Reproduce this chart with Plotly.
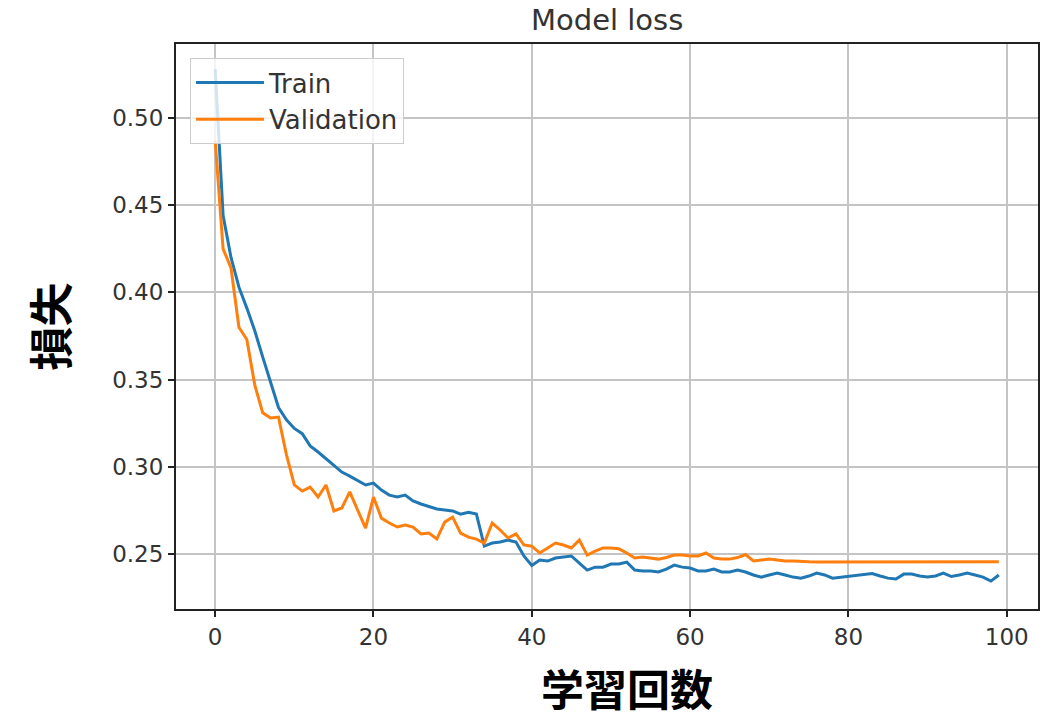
import plotly.graph_objects as go

epochs = list(range(100))

train_loss = [
    0.528, 0.444, 0.420, 0.403, 0.391, 0.378, 0.363, 0.348, 0.334, 0.327,
    0.322, 0.319, 0.312, 0.3085, 0.3045, 0.3005, 0.297, 0.2947, 0.2919, 0.2896,
    0.2907, 0.2867, 0.2838, 0.2827, 0.2838, 0.2804, 0.2787, 0.2772, 0.2758, 0.2752,
    0.2747, 0.2729, 0.274, 0.2729, 0.2546, 0.2563, 0.2569, 0.258, 0.2569, 0.2489,
    0.2434, 0.2466, 0.246, 0.2477, 0.2483, 0.2489, 0.2448, 0.2408, 0.2425, 0.2425,
    0.2443, 0.2443, 0.2454, 0.2408, 0.2403, 0.2403, 0.2397, 0.2414, 0.2437, 0.2425,
    0.242, 0.2403, 0.2403, 0.2414, 0.2397, 0.2397, 0.2408, 0.2397, 0.238, 0.2368,
    0.238, 0.2391, 0.238, 0.2368, 0.2362, 0.2374, 0.2391, 0.238, 0.2362, 0.2368,
    0.2374, 0.2377, 0.2385, 0.2388, 0.2374, 0.2362, 0.2357, 0.2385, 0.2385, 0.2374,
    0.2368, 0.2374, 0.2391, 0.2371, 0.238, 0.2391, 0.238, 0.2368, 0.2345, 0.238,
]

val_loss = [
    0.487, 0.425, 0.414, 0.380, 0.373, 0.347, 0.331, 0.328, 0.3285, 0.307,
    0.2896, 0.2861, 0.2884, 0.2827, 0.2896, 0.2747, 0.2764, 0.2856, 0.2752, 0.2649,
    0.2827, 0.2706, 0.2678, 0.2655, 0.2666, 0.2655, 0.2615, 0.262, 0.2586, 0.2683,
    0.2712, 0.262, 0.2597, 0.2586, 0.2563, 0.2678, 0.2638, 0.2592, 0.2615, 0.2552,
    0.2545, 0.2506, 0.2535, 0.2563, 0.2552, 0.2535, 0.258, 0.2494, 0.2517, 0.2535,
    0.2535, 0.253, 0.2506, 0.2477, 0.2483, 0.2477, 0.2471, 0.248, 0.2494, 0.2494,
    0.2489, 0.2489, 0.2506, 0.2477, 0.2471, 0.2471, 0.248, 0.2497, 0.246, 0.2466,
    0.2471, 0.2466, 0.246, 0.246, 0.2456, 0.2456, 0.2455, 0.2455, 0.2455, 0.2455,
    0.2455, 0.2455, 0.2455, 0.2455, 0.2455, 0.2455, 0.2455, 0.2455, 0.2455, 0.2455,
    0.2455, 0.2455, 0.2456, 0.2456, 0.2456, 0.2456, 0.2456, 0.2456, 0.2456, 0.2456,
]

x_ticks = [0, 20, 40, 60, 80, 100]
y_ticks = [0.25, 0.30, 0.35, 0.40, 0.45, 0.50]
y_tick_labels = ["0.25", "0.30", "0.35", "0.40", "0.45", "0.50"]

title_text = "Model loss"
x_label = "学習回数"
y_label = "損失"
series_names = ["Train", "Validation"]
colors = ["#1f77b4", "#ff7f0e"]

fig = go.Figure()
fig.add_trace(go.Scatter(x=epochs, y=train_loss, mode="lines", name=series_names[0],
                         line=dict(color=colors[0], width=3)))
fig.add_trace(go.Scatter(x=epochs, y=val_loss, mode="lines", name=series_names[1],
                         line=dict(color=colors[1], width=3)))

tick_font = dict(family="DejaVu Sans", size=23, color="#333333")
axis_common = dict(
    showgrid=True, gridcolor="#c4c4c4", gridwidth=2,
    showline=True, linecolor="#222222", linewidth=2, mirror=True,
    ticks="outside", ticklen=6, tickwidth=1.5, tickcolor="#222222",
    tickfont=tick_font, zeroline=False,
)

fig.update_layout(
    width=1051, height=718,
    margin=dict(l=176, r=11, t=44, b=109),
    paper_bgcolor="white", plot_bgcolor="white",
    showlegend=True,
    legend=dict(
        x=0.0162, y=0.975, xanchor="left", yanchor="top",
        bgcolor="rgba(255,255,255,0.8)", bordercolor="#cccccc", borderwidth=1,
        font=dict(family="DejaVu Sans", size=26, color="#333333"),
        itemwidth=68, tracegroupgap=0,
    ),
    xaxis=dict(range=[-4.95, 103.95], tickvals=x_ticks, **axis_common),
    yaxis=dict(range=[0.2185, 0.5424], tickvals=y_ticks, ticktext=y_tick_labels, **axis_common),
    annotations=[
        dict(text=title_text, xref="paper", yref="paper", x=0.5, y=1, yanchor="bottom",
             yshift=5, showarrow=False,
             font=dict(family="DejaVu Sans", size=29, color="#333333")),
        dict(text="<b>" + x_label + "</b>", xref="paper", yref="paper", x=0.5, y=0,
             xshift=20, yshift=-78, yanchor="middle", showarrow=False, borderpad=0,
             font=dict(family="Noto Sans CJK JP", size=43, color="black")),
        dict(text="<b>" + y_label + "</b>", xref="paper", yref="paper", x=0, y=0.5,
             xshift=-128, textangle=-90, xanchor="center", yanchor="middle", showarrow=False,
             font=dict(family="Noto Sans CJK JP", size=44, color="black")),
    ],
)

fig.write_html("out.html")
